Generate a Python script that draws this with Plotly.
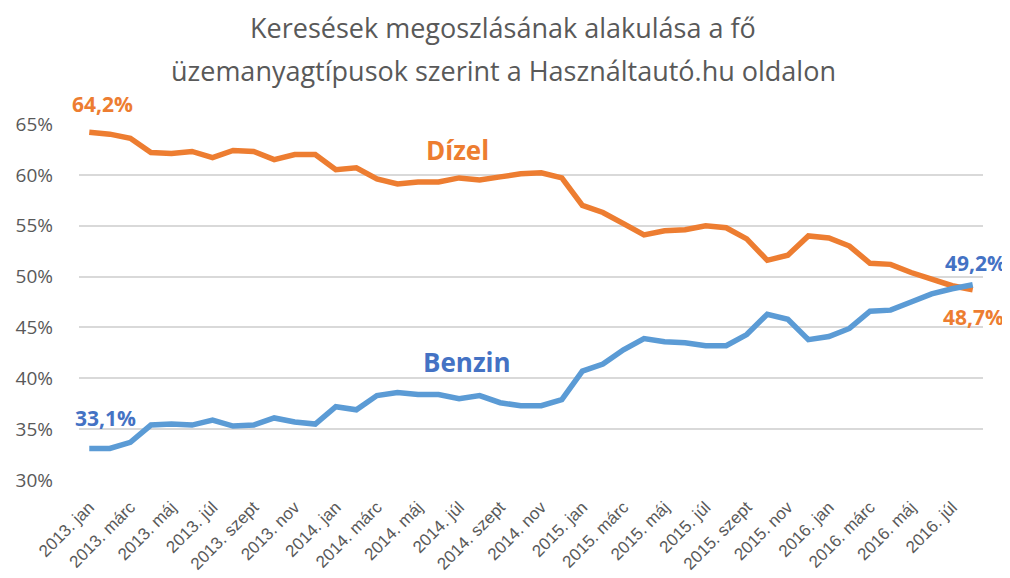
import plotly.graph_objects as go

years = ["2013", "2014", "2015", "2016"]
month_names = ["jan", "febr", "márc", "ápr", "máj", "jún", "júl", "aug", "szept", "okt", "nov", "dec"]
months = [f"{y}. {m}" for y in years for m in month_names][:44]

dizel = [64.2, 64.0, 63.6, 62.2, 62.1, 62.3, 61.7, 62.4, 62.3, 61.5, 62.0, 62.0,
         60.5, 60.7, 59.6, 59.1, 59.3, 59.3, 59.7, 59.5, 59.8, 60.1, 60.2, 59.7,
         57.0, 56.3, 55.2, 54.1, 54.5, 54.6, 55.0, 54.8, 53.7, 51.6, 52.1, 54.0,
         53.8, 53.0, 51.3, 51.2, 50.4, 49.7, 49.1, 48.7]
benzin = [33.1, 33.1, 33.7, 35.4, 35.5, 35.4, 35.9, 35.3, 35.4, 36.1, 35.7, 35.5,
          37.2, 36.9, 38.3, 38.6, 38.4, 38.4, 38.0, 38.3, 37.6, 37.3, 37.3, 37.9,
          40.7, 41.4, 42.8, 43.9, 43.6, 43.5, 43.2, 43.2, 44.3, 46.3, 45.8, 43.8,
          44.1, 44.9, 46.6, 46.7, 47.5, 48.3, 48.8, 49.2]
y_ticks = [30, 35, 40, 45, 50, 55, 60, 65]

ORANGE = "#ED7D31"
BLUE_LINE = "#5B9BD5"
BLUE_TXT = "#4472C4"
GREY = "#595959"

x = list(range(len(months)))
fig = go.Figure()
fig.add_trace(go.Scatter(x=x, y=dizel, mode="lines", name="Dízel",
                         line=dict(color=ORANGE, width=5.5), cliponaxis=False))
fig.add_trace(go.Scatter(x=x, y=benzin, mode="lines", name="Benzin",
                         line=dict(color=BLUE_LINE, width=5.5), cliponaxis=False))

fig.update_layout(
    width=1010, height=578,
    margin=dict(l=71, r=35, t=116, b=106),
    paper_bgcolor="white", plot_bgcolor="white",
    showlegend=False,
    font=dict(family="Open Sans", color=GREY),
)
fig.update_xaxes(
    range=[-0.5, len(months) - 0.5],
    tickvals=x[::2], ticktext=months[::2],
    tickangle=-45, tickfont=dict(family="Liberation Sans", size=17, color=GREY),
    showgrid=False, zeroline=False, showline=False, ticks="",
    ticklabelstandoff=13, automargin=False,
)
fig.update_yaxes(
    range=[30, 65], tickvals=y_ticks, ticktext=[f"{v}%" for v in y_ticks],
    tickfont=dict(family="Open Sans", size=19, color=GREY),
    showgrid=True, gridcolor="#D9D9D9", gridwidth=2, zeroline=False, showline=False,
    ticks="", ticklabelstandoff=25, automargin=False,
)

title_lines = ["Keresések megoszlásának alakulása a fő",
               "üzemanyagtípusok szerint a Használtautó.hu oldalon"]
title_shifts = [97, 54]
for t, ys in zip(title_lines, title_shifts):
    fig.add_annotation(text=t, xref="paper", yref="paper", x=0.5, y=1,
                       xshift=-28, yshift=ys, showarrow=False,
                       xanchor="center", yanchor="middle",
                       font=dict(family="Open Sans", size=27, color=GREY))

def lbl(text, xi, yv, color, size, dx=0, dy=0):
    fig.add_annotation(text=f"<b>{text}</b>", x=xi, y=yv, xref="x", yref="y",
                       showarrow=False, xshift=dx, yshift=dy,
                       font=dict(family="Open Sans", size=size, color=color))

lbl("Dízel", 17.9, 62.45, ORANGE, 26)
lbl("Benzin", 18.4, 41.6, BLUE_TXT, 26)
lbl("64,2%", 0, dizel[0], ORANGE, 21, dx=13, dy=28)
lbl("33,1%", 0, benzin[0], BLUE_TXT, 21, dx=16, dy=30)
lbl("49,2%", len(months) - 1, benzin[-1], BLUE_TXT, 21, dx=3, dy=22)
lbl("48,7%", len(months) - 1, dizel[-1], ORANGE, 21, dx=1, dy=-27)

fig.write_html("out.html")
